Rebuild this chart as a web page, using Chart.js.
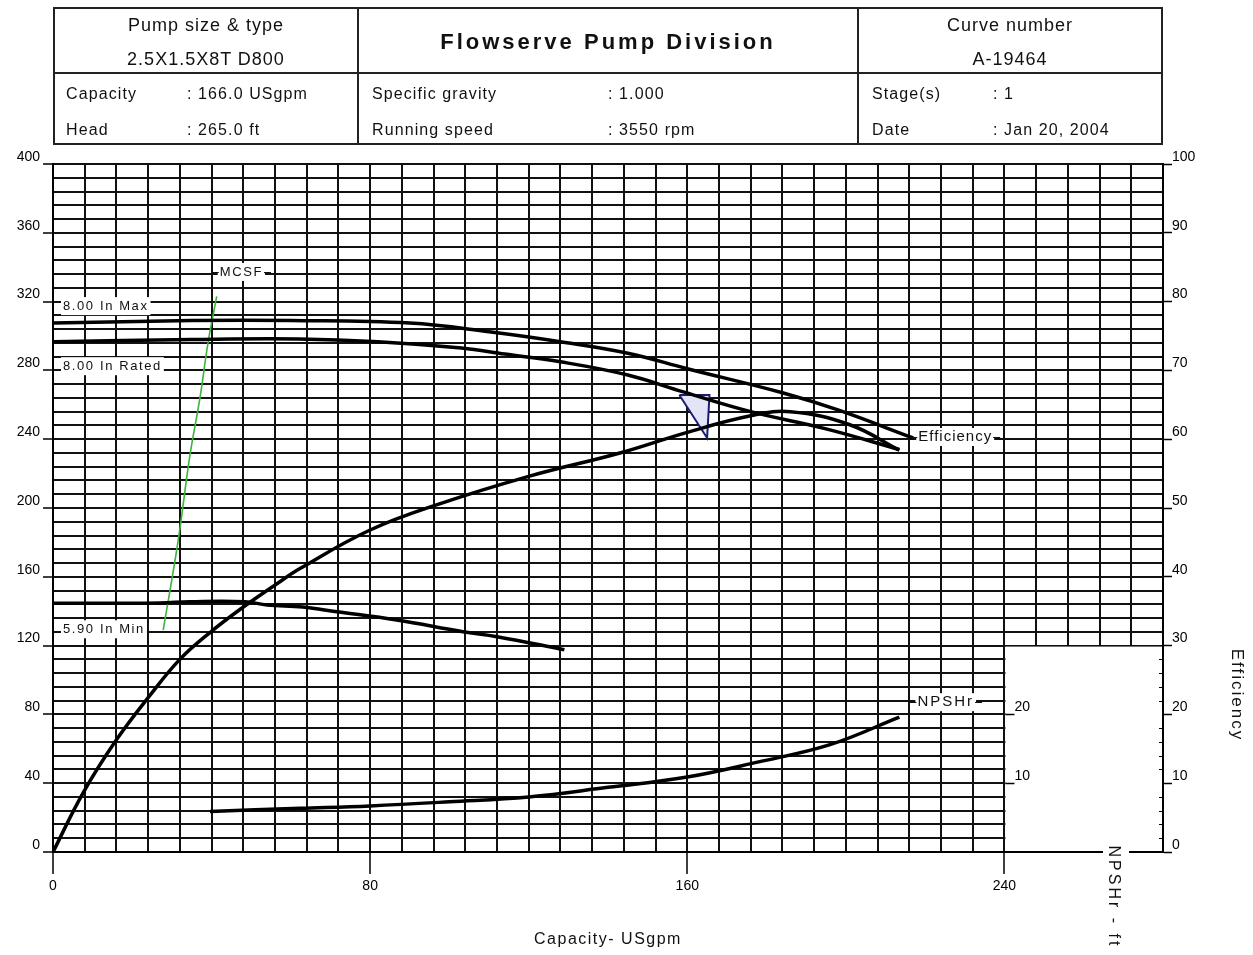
<!DOCTYPE html>
<html><head><meta charset="utf-8">
<script src="https://cdn.jsdelivr.net/npm/chart.js@4.4.1/dist/chart.umd.min.js"></script>
<style>
html,body{margin:0;padding:0;background:#fff;}
#wrap{position:relative;width:1253px;height:955px;overflow:hidden;background:#fff;}
#c{position:absolute;left:0;top:0;}
.ln{position:absolute;background:#222;}
.t{position:absolute;white-space:nowrap;line-height:20px;height:20px;font-family:'Liberation Sans',Arial,sans-serif;color:#111;font-size:16px;letter-spacing:1.1px;}
.c{text-align:center;}
.big{font-size:18px;letter-spacing:1px;}
.ttl{font-size:22px;font-weight:bold;letter-spacing:3px;line-height:26px;height:26px;}
</style></head>
<body><div id="wrap">
<canvas id="c" width="1253" height="955"></canvas>
<div class="ln" style="left:53px;top:7px;width:1110px;height:2px"></div>
<div class="ln" style="left:53px;top:143px;width:1110px;height:2px"></div>
<div class="ln" style="left:53px;top:7px;width:2px;height:138px"></div>
<div class="ln" style="left:1161px;top:7px;width:2px;height:138px"></div>
<div class="ln" style="left:53px;top:72px;width:1110px;height:2px"></div>
<div class="ln" style="left:357px;top:7px;width:2px;height:138px"></div>
<div class="ln" style="left:857px;top:7px;width:2px;height:138px"></div>

<div class="t c big" style="left:55px;width:302px;top:15px">Pump size &amp; type</div>
<div class="t c big" style="left:55px;width:302px;top:49px">2.5X1.5X8T D800</div>
<div class="t c ttl" style="left:359px;width:498px;top:29px">Flowserve Pump Division</div>
<div class="t c big" style="left:859px;width:302px;top:15px">Curve number</div>
<div class="t c big" style="left:859px;width:302px;top:49px">A-19464</div>

<div class="t" style="left:66px;top:84px">Capacity</div>
<div class="t" style="left:187px;top:84px">: 166.0 USgpm</div>
<div class="t" style="left:66px;top:120px">Head</div>
<div class="t" style="left:187px;top:120px">: 265.0 ft</div>
<div class="t" style="left:372px;top:84px">Specific gravity</div>
<div class="t" style="left:608px;top:84px">: 1.000</div>
<div class="t" style="left:372px;top:120px">Running speed</div>
<div class="t" style="left:608px;top:120px">: 3550 rpm</div>
<div class="t" style="left:872px;top:84px">Stage(s)</div>
<div class="t" style="left:993px;top:84px">: 1</div>
<div class="t" style="left:872px;top:120px">Date</div>
<div class="t" style="left:993px;top:120px">: Jan 20, 2004</div>
</div>
<script>
// ---- tick labels ----
const capacityTickLabels = [0, 80, 160, 240];
const headTickLabels = [0, 40, 80, 120, 160, 200, 240, 280, 320, 360, 400];
const effTickLabels = [0, 10, 20, 30, 40, 50, 60, 70, 80, 90, 100];
const npshTickLabels = [10, 20];

// ---- curves (flow USgpm / value) ----
const maxFlow = [0, 35, 60, 90, 110, 128, 145, 160, 184, 198, 217];
const maxHead = [307.5, 309, 309, 307.5, 302.5, 296.7, 290, 281, 267, 257, 240.7];

const ratedFlow = [0, 35, 62, 82, 103, 114, 128, 145, 159, 176, 195, 213.5];
const ratedHead = [296.7, 298, 298.3, 296.7, 293, 289.5, 285, 277.3, 267.5, 256, 246, 234];

const minFlow = [0, 27, 34.5, 48.4, 54, 63, 71.6, 86.7, 103.4, 112, 129];
const minHead = [144.6, 144.8, 145.5, 145.5, 143.6, 142.4, 139.7, 134.9, 128.1, 125.2, 117.6];

const effFlow = [0, 7.6, 16, 24.5, 32, 39.6, 48, 56.5, 62.3, 80, 97.5, 120, 143, 160, 176, 186, 201, 213.5];
const effValue = [0, 8.6, 16.3, 22.8, 28.0, 31.9, 35.6, 39.0, 41.2, 46.8, 50.6, 54.6, 58.0, 61, 63.4, 64.0, 62.1, 58.4];

const npshFlow = [39.6, 62.3, 80, 100, 120, 140, 160, 178, 196, 213.5];
const npshValue = [5.9, 6.35, 6.7, 7.3, 8.0, 9.4, 10.9, 13.1, 15.6, 19.6];

const mcsfFlow = [27.8, 31.5, 34.5, 37.1, 39.1, 41.3];
const mcsfHead = [129, 180, 230, 264.5, 296, 323];

const dutyFlow = [158, 165.6, 165, 158];
const dutyHead = [265.7, 265.7, 240.7, 265.7];

const FONT = "'Liberation Sans', Arial, sans-serif";
const pts = (q, v) => q.map((x, i) => ({x: x, y: v[i]}));
const curve = (label, data, axis, color, w) => ({
  label, data, yAxisID: axis, borderColor: color, borderWidth: w,
  pointRadius: 0, fill: false, tension: 0.4, cubicInterpolationMode: 'default'
});

const tickCol = (list) => (c) => (c.tick && list.includes(c.tick.value)) ? '#000' : 'rgba(0,0,0,0)';

function boxLabel(ctx, text, x, y, dl, dr) {
  const w = ctx.measureText(text).width;
  ctx.fillStyle = '#fff';
  ctx.fillRect(x - 2, y - 9, w + 4, 18);
  ctx.fillStyle = '#111';
  ctx.fillText(text, x, y);
  ctx.strokeStyle = '#111'; ctx.lineWidth = 1;
  if (dl) { ctx.beginPath(); ctx.moveTo(x - 8, Math.round(y) + 0.5); ctx.lineTo(x - 1, Math.round(y) + 0.5); ctx.stroke(); }
  if (dr) { ctx.beginPath(); ctx.moveTo(x + w + 1, Math.round(y) + 0.5); ctx.lineTo(x + w + 8, Math.round(y) + 0.5); ctx.stroke(); }
}

const deco = {
  id: 'deco',
  beforeDatasetsDraw(chart) {
    const {ctx, scales} = chart;
    const x = scales.x, y = scales.y, e = scales.eff;
    ctx.save();
    const l = x.getPixelForValue(240) + 1, r = x.getPixelForValue(280) - 1;
    const t = y.getPixelForValue(120) + 1, b = y.getPixelForValue(0) - 1;
    ctx.fillStyle = '#fff';
    ctx.fillRect(l, t, r - l, b - t);
    ctx.strokeStyle = '#000'; ctx.lineWidth = 1;
    for (let v = 2; v < 30; v += 2) {
      if (v % 10 === 0) continue;
      const py = Math.round(e.getPixelForValue(v)) + 0.5;
      ctx.beginPath(); ctx.moveTo(r - 3, py); ctx.lineTo(r + 1, py); ctx.stroke();
    }
    const ax = x.getPixelForValue(240);
    ctx.font = '14px ' + FONT; ctx.fillStyle = '#000';
    ctx.textAlign = 'left'; ctx.textBaseline = 'middle';
    npshTickLabels.forEach(v => {
      const py = Math.round(scales.npsh.getPixelForValue(v)) + 0.5;
      ctx.lineWidth = 1.5;
      ctx.beginPath(); ctx.moveTo(ax + 1, py); ctx.lineTo(ax + 10, py); ctx.stroke();
      ctx.fillText(String(v), ax + 10, py - 7);
    });
    ctx.restore();
  },
  afterDatasetsDraw(chart) {
    const {ctx, scales} = chart;
    const x = scales.x, y = scales.y, n = scales.npsh;
    ctx.save();
    ctx.font = '13px ' + FONT;
    ctx.letterSpacing = '1.6px';
    ctx.textAlign = 'left'; ctx.textBaseline = 'middle';
    const px = x.getPixelForValue.bind(x), py = y.getPixelForValue.bind(y);
    boxLabel(ctx, '8.00 In Max', px(maxFlow[0]) + 10, py(maxHead[0]) - 17, false, false);
    boxLabel(ctx, '8.00 In Rated', px(ratedFlow[0]) + 10, py(ratedHead[0]) + 24.5, false, false);
    boxLabel(ctx, '5.90 In Min', px(minFlow[0]) + 10, py(minHead[0]) + 26, false, false);
    const mi = mcsfFlow.length - 1;
    boxLabel(ctx, 'MCSF', px(mcsfFlow[mi]) + 3, py(mcsfHead[mi]) - 24.5, true, true);
    ctx.font = '15px ' + FONT; ctx.letterSpacing = '1px';
    const ki = maxFlow.length - 1;
    boxLabel(ctx, 'Efficiency', px(maxFlow[ki]) + 5, py(maxHead[ki]) - 1, true, true);
    const ni = npshFlow.length - 1;
    ctx.letterSpacing = '2px';
    boxLabel(ctx, 'NPSHr', px(npshFlow[ni]) + 18, n.getPixelForValue(npshValue[ni]) - 15, true, true);
    ctx.restore();
  },
  afterDraw(chart) {
    const {ctx, chartArea} = chart;
    ctx.save();
    ctx.fillStyle = '#111';
    ctx.font = '16px ' + FONT;
    ctx.textAlign = 'center'; ctx.textBaseline = 'middle';
    ctx.letterSpacing = '1.5px';
    ctx.fillText('Capacity- USgpm', (chartArea.left + chartArea.right) / 2, 940);
    ctx.fillStyle = '#fff';
    ctx.fillRect(1103, chartArea.bottom - 4, 26, 8);
    ctx.fillStyle = '#111';
    ctx.letterSpacing = '3px';
    ctx.translate(1113, 897); ctx.rotate(Math.PI / 2);
    ctx.fillText('NPSHr - ft', 0, 0);
    ctx.setTransform(1, 0, 0, 1, 0, 0);
    ctx.font = '17px ' + FONT;
    ctx.letterSpacing = '2px';
    ctx.translate(1237, 695); ctx.rotate(Math.PI / 2);
    ctx.fillText('Efficiency', 0, 0);
    ctx.restore();
  }
};

const tickFont = {family: FONT, size: 14};

new Chart(document.getElementById('c').getContext('2d'), {
  type: 'line',
  data: {
    datasets: [
      curve('8.00 In Max', pts(maxFlow, maxHead), 'y', '#000', 3.5),
      curve('8.00 In Rated', pts(ratedFlow, ratedHead), 'y', '#000', 3.5),
      curve('5.90 In Min', pts(minFlow, minHead), 'y', '#000', 3.5),
      curve('Efficiency', pts(effFlow, effValue), 'eff', '#000', 3.5),
      curve('NPSHr', pts(npshFlow, npshValue), 'npsh', '#000', 3.5),
      curve('MCSF', pts(mcsfFlow, mcsfHead), 'y', '#3cb43c', 1.6),
      {label: 'Duty point', data: pts(dutyFlow, dutyHead), yAxisID: 'y', borderColor: '#1c1c70',
       backgroundColor: '#e4e4f8', borderWidth: 2, pointRadius: 0, tension: 0, fill: 'shape'}
    ]
  },
  options: {
    responsive: false, animation: false, devicePixelRatio: 1,
    layout: {padding: {top: 164, left: 0, right: 0, bottom: 0}},
    plugins: {legend: {display: false}, tooltip: {enabled: false}, title: {display: false}},
    scales: {
      x: {
        type: 'linear', min: 0, max: 280,
        afterFit: s => { s.height = 103; },
        ticks: {stepSize: 8, maxTicksLimit: 1000, autoSkip: false, maxRotation: 0, padding: 4,
          color: '#000', font: tickFont,
          callback: v => capacityTickLabels.includes(v) ? String(v) : ''},
        grid: {color: '#111', lineWidth: 2, tickLength: 22, tickWidth: 1.5, tickColor: tickCol(capacityTickLabels)},
        border: {display: true, color: '#000', width: 2}
      },
      y: {
        type: 'linear', position: 'left', min: 0, max: 400,
        afterFit: s => { s.width = 53; },
        ticks: {stepSize: 8, maxTicksLimit: 1000, autoSkip: false, padding: 3, labelOffset: -7,
          color: '#000', font: tickFont,
          callback: v => headTickLabels.includes(v) ? String(v) : ''},
        grid: {color: '#111', lineWidth: 2, tickLength: 10, tickWidth: 1.5, tickColor: tickCol(headTickLabels)},
        border: {display: true, color: '#000', width: 2}
      },
      eff: {
        type: 'linear', position: 'right', min: 0, max: 100,
        afterFit: s => { s.width = 90; },
        ticks: {stepSize: 2, maxTicksLimit: 1000, autoSkip: false, padding: 0, labelOffset: -7,
          color: '#000', font: tickFont,
          callback: v => effTickLabels.includes(v) ? String(v) : ''},
        grid: {drawOnChartArea: false, tickLength: 9, tickWidth: 1.5, tickColor: tickCol(effTickLabels)},
        border: {display: true, color: '#000', width: 2}
      },
      npsh: {type: 'linear', display: false, min: 0, max: 100}
    }
  },
  plugins: [deco]
});
</script>
</body></html>
